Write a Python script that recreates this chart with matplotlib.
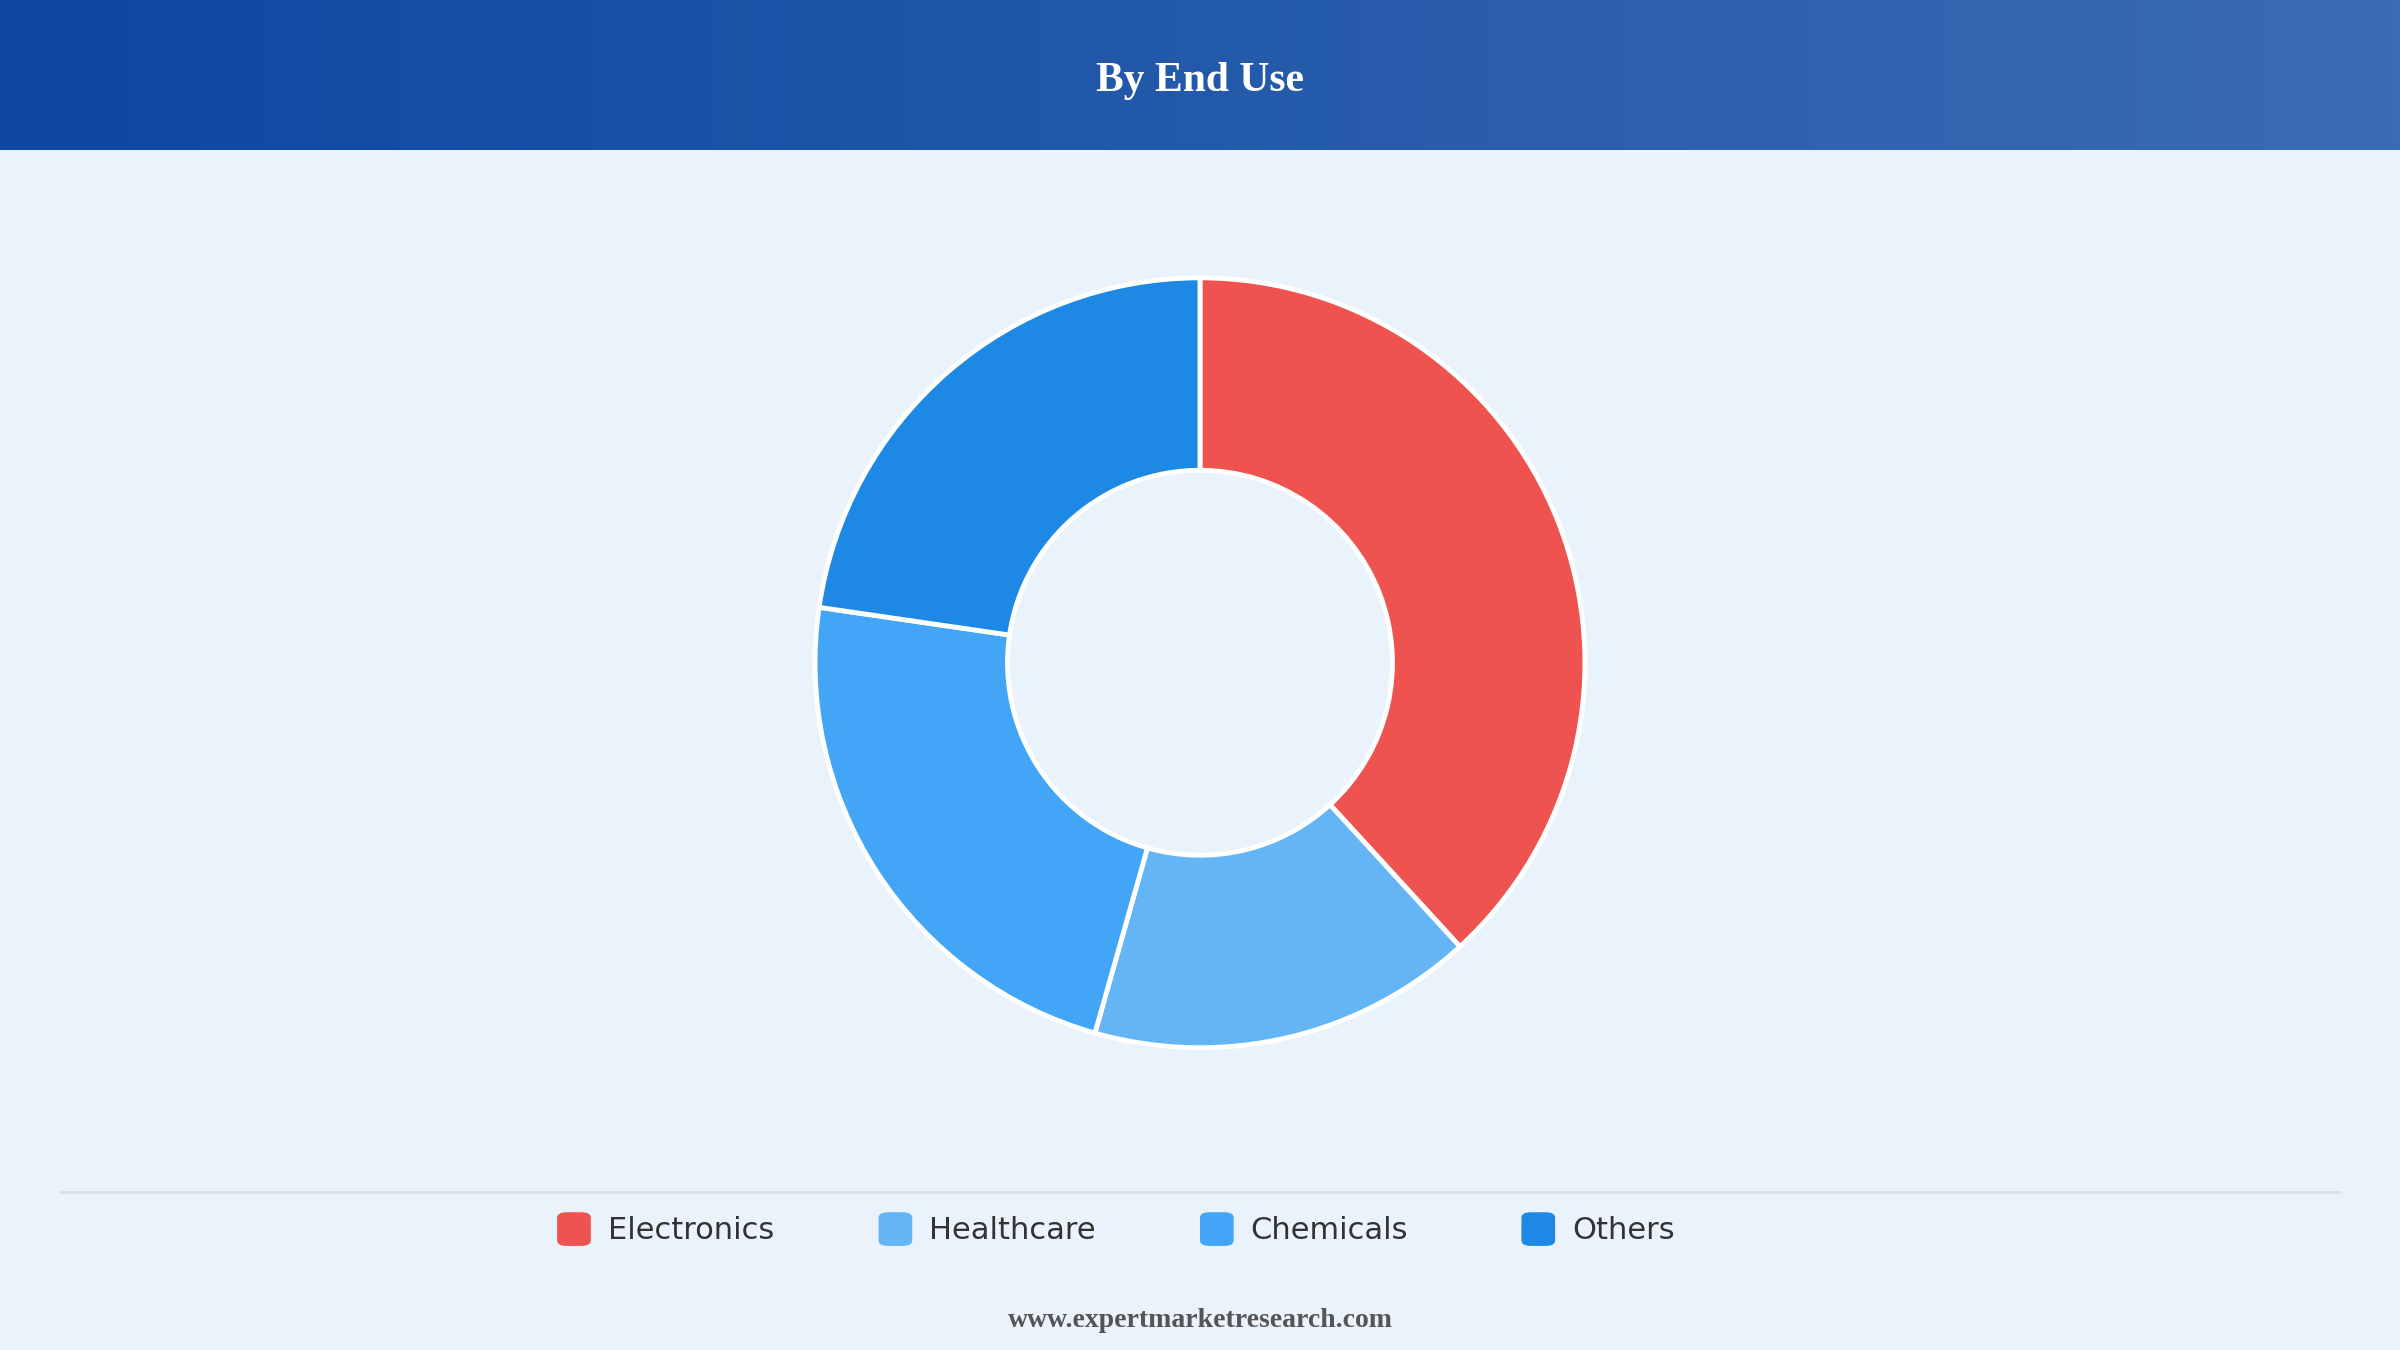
import matplotlib.pyplot as plt
import matplotlib.patches as mpatches
import numpy as np

# Data
categories = ['Electronics', 'Healthcare', 'Chemicals', 'Others']
shares = [38.2, 16.2, 22.9, 22.7]
colors = ['#EF5350', '#64B5F6', '#42A5F5', '#1E88E5']

W, H = 1568.0, 882.0  # reference layout units

fig = plt.figure(figsize=(24, 13.5), dpi=100)
fig.patch.set_facecolor('#EAF2FB')

# Header band with horizontal gradient
hdr = fig.add_axes([0, 1 - 98 / H, 1, 98 / H])
grad = np.linspace(0, 1, 256).reshape(1, -1)
from matplotlib.colors import LinearSegmentedColormap
cmap = LinearSegmentedColormap.from_list('hdr', ['#0D47A1', '#3A6CB4'])
hdr.imshow(grad, aspect='auto', cmap=cmap, extent=[0, 1, 0, 1])
hdr.set_axis_off()
hdr.text(0.5, 0.46, 'By End Use', ha='center', va='center', color='white',
         fontsize=30, fontweight='bold', family='Liberation Serif')

# Donut
r = 254 / H
ax = fig.add_axes([0.5 - r * H / W, 1 - 433 / H - r, 2 * r * H / W, 2 * r])
ax.pie(shares, colors=colors, startangle=90, counterclock=False, radius=1,
       wedgeprops=dict(width=0.5, edgecolor='white', linewidth=3.5))
ax.set_xlim(-1.01, 1.01)
ax.set_ylim(-1.01, 1.01)
ax.set_aspect('equal')
ax.set_axis_off()

# Separator line
fig.add_artist(plt.Line2D([40 / W, 1528 / W], [1 - 779 / H] * 2, color='#D9DEE5', lw=2))

# Legend
xs = [375, 585, 795, 1005]
for x, c, lab in zip(xs, colors, categories):
    box = mpatches.FancyBboxPatch(((x - 11) / W, 1 - 814 / H), 22 / W, 22 / H,
                                  boxstyle='round,pad=0,rounding_size=0.004',
                                  transform=fig.transFigure, facecolor=c, edgecolor='none')
    fig.add_artist(box)
    fig.text((x + 22) / W, 1 - 804 / H, lab, ha='left', va='center',
             fontsize=22, color='#333333')

fig.text(0.5, 1 - 863 / H, 'www.expertmarketresearch.com', ha='center', va='center',
         fontsize=20, fontweight='bold', color='#555555', family='Liberation Serif')

plt.savefig('out.png', dpi=100, facecolor=fig.get_facecolor())
